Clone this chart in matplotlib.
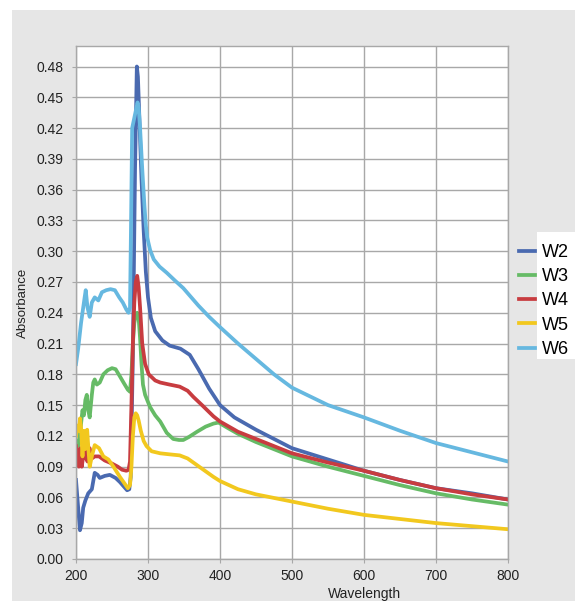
import matplotlib.pyplot as plt
from matplotlib.patches import Rectangle

plt.rcParams['font.family'] = ['Liberation Sans', 'DejaVu Sans']

# Absorbance spectra
w2_x = [200, 203, 205.5, 208, 210, 213, 217, 222, 226, 230, 233, 240, 247, 255, 261, 266, 271, 274,
        276, 279, 282, 284.5, 286, 288, 291, 294, 297, 300, 304, 310, 320, 330, 345, 358, 370, 385,
        400, 420, 450, 500, 550, 600, 650, 700, 750, 800]
w2_y = [0.077, 0.05, 0.028, 0.035, 0.05, 0.057, 0.064, 0.068, 0.084, 0.082, 0.079, 0.081, 0.082, 0.079,
        0.075, 0.071, 0.067, 0.068, 0.08, 0.2, 0.38, 0.48, 0.47, 0.43, 0.37, 0.32, 0.28, 0.255, 0.235,
        0.222, 0.213, 0.208, 0.205, 0.199, 0.185, 0.166, 0.150, 0.138, 0.126, 0.108, 0.097, 0.086, 0.077,
        0.069, 0.064, 0.058]

w3_x = [200, 203, 206, 209, 211, 213, 215, 217, 219, 222, 224, 226, 229, 233, 238, 244, 250, 255, 261,
        266, 272, 275, 277, 279, 281, 283, 285, 287, 289, 291, 293, 296, 300, 303, 310, 317, 326, 335,
        343, 349, 357, 368, 380, 391, 398, 410, 425, 450, 500, 550, 600, 650, 700, 750, 800]
w3_y = [0.115, 0.11, 0.125, 0.145, 0.14, 0.155, 0.16, 0.145, 0.138, 0.16, 0.172, 0.175, 0.17, 0.172,
        0.18, 0.184, 0.186, 0.185, 0.178, 0.172, 0.165, 0.163, 0.18, 0.21, 0.23, 0.238, 0.24, 0.235,
        0.215, 0.19, 0.17, 0.16, 0.153, 0.148, 0.14, 0.134, 0.123, 0.117, 0.116, 0.116, 0.119, 0.124,
        0.129, 0.132, 0.133, 0.128, 0.122, 0.114, 0.1, 0.09, 0.081, 0.072, 0.064, 0.058, 0.053]

w4_x = [200, 202, 204, 206, 208, 210, 212, 214, 216, 219, 222, 226, 232, 240, 250, 258, 264, 270, 273,
        275, 277, 279, 281, 283, 285, 287, 289, 292, 296, 301, 310, 317, 330, 344, 355, 363, 375, 391,
        400, 425, 450, 500, 550, 600, 650, 700, 750, 800]
w4_y = [0.11, 0.095, 0.09, 0.108, 0.09, 0.1, 0.12, 0.098, 0.095, 0.108, 0.098, 0.1, 0.1, 0.096, 0.093,
        0.09, 0.087, 0.086, 0.087, 0.095, 0.15, 0.21, 0.25, 0.27, 0.276, 0.265, 0.245, 0.21, 0.19, 0.18,
        0.174, 0.172, 0.17, 0.168, 0.164, 0.158, 0.15, 0.139, 0.134, 0.124, 0.117, 0.103, 0.094, 0.086,
        0.077, 0.069, 0.063, 0.058]

w5_x = [200, 202, 204, 205.5, 207, 209, 211, 212.5, 214, 215.5, 217, 219, 222, 226, 232, 238, 245, 252,
        261, 266, 272, 275, 277, 279, 281, 283, 285, 287, 290, 294, 298, 305, 317, 330, 344, 355, 363,
        375, 391, 400, 425, 450, 500, 550, 600, 650, 700, 750, 800]
w5_y = [0.12, 0.13, 0.125, 0.137, 0.128, 0.1, 0.125, 0.107, 0.118, 0.126, 0.11, 0.09, 0.1, 0.111, 0.108,
        0.1, 0.097, 0.09, 0.08, 0.075, 0.069, 0.072, 0.09, 0.12, 0.138, 0.142, 0.14, 0.135, 0.125, 0.115,
        0.11, 0.105, 0.103, 0.102, 0.101, 0.098, 0.094, 0.088, 0.08, 0.076, 0.068, 0.063, 0.056, 0.049,
        0.043, 0.039, 0.035, 0.032, 0.029]

w6_x = [200, 203, 207, 210, 212, 213.5, 216, 219, 222, 226, 231, 236, 242, 248, 254, 260, 265, 270, 273,
        275, 276.5, 278, 281, 285.5, 287, 289, 292, 295, 297, 299, 303, 308, 316, 326, 338, 349, 370,
        385, 400, 425, 450, 475, 500, 550, 600, 650, 700, 750, 800]
w6_y = [0.19, 0.205, 0.23, 0.245, 0.255, 0.262, 0.245, 0.236, 0.25, 0.255, 0.252, 0.26, 0.262, 0.263,
        0.262, 0.255, 0.25, 0.243, 0.24, 0.245, 0.33, 0.42, 0.43, 0.445, 0.44, 0.42, 0.38, 0.345, 0.325,
        0.313, 0.301, 0.292, 0.285, 0.279, 0.271, 0.264, 0.247, 0.236, 0.226, 0.21, 0.195, 0.18, 0.167,
        0.15, 0.138, 0.125, 0.113, 0.104, 0.095]

names = ['W2', 'W3', 'W4', 'W5', 'W6']
colors = ['#4a6ab0', '#66bb66', '#c83c40', '#f2c81e', '#66b8e0']
xs = [w2_x, w3_x, w4_x, w5_x, w6_x]
ys = [w2_y, w3_y, w4_y, w5_y, w6_y]

y_ticks = [0.00, 0.03, 0.06, 0.09, 0.12, 0.15, 0.18, 0.21, 0.24, 0.27, 0.30, 0.33, 0.36, 0.39, 0.42, 0.45, 0.48]
x_ticks = [200, 300, 400, 500, 600, 700, 800]

W, H = 575, 601
fig = plt.figure(figsize=(W / 100, H / 100), dpi=100, facecolor='white')
# grey panel behind everything
fig.patches.append(Rectangle((12 / W, 0), 1 - 12 / W, 1 - 10 / H, transform=fig.transFigure,
                             facecolor='#e6e6e6', edgecolor='none', zorder=-2))

ax = fig.add_axes([76 / W, (H - 559) / H, 432 / W, 513 / H])
ax.set_facecolor('white')

lines = []
for x, y, c, n in zip(xs, ys, colors, names):
    ln, = ax.plot(x, y, color=c, linewidth=2.7, label=n, solid_joinstyle='round')
    lines.append(ln)

ax.set_xlim(200, 800)
ax.set_ylim(0, 0.5)
ax.set_xticks(x_ticks)
ax.set_yticks(y_ticks)
ax.set_yticklabels([f'{v:.2f}' for v in y_ticks])
ax.grid(True, color='#a8a8a8', linewidth=1)
ax.set_axisbelow(True)
for s in ax.spines.values():
    s.set_color('#a8a8a8')
    s.set_linewidth(1)
ax.tick_params(length=3, color='#a8a8a8', labelsize=10, labelcolor='#222222')
ax.tick_params(axis='y', pad=6)
ax.tick_params(axis='x', pad=4)

ax.set_xlabel('Wavelength', fontsize=10, color='#222222', labelpad=0)
ax.xaxis.set_label_coords(0.667, -0.055)
ax.set_ylabel('Absorbance', fontsize=9.5, color='#222222')
ax.yaxis.set_label_coords(-0.11, 0.5)

# white box behind legend text
fig.patches.append(Rectangle((537 / W, (H - 359) / H), 38 / W, 127 / H, transform=fig.transFigure,
                             facecolor='white', edgecolor='none', zorder=-1))
fig.legend(handles=lines, loc='upper left', bbox_to_anchor=(519 / W, 1 - 244 / H), frameon=False,
           fontsize=13, handlelength=0.9, handletextpad=0.35, labelspacing=0.4, borderpad=0,
           borderaxespad=0)

fig.savefig('out.png', dpi=100, facecolor=fig.get_facecolor())
